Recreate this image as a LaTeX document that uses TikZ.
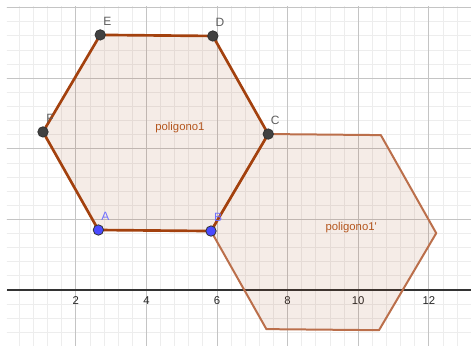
\documentclass[tikz,border=0pt]{standalone}
\usepackage{fontspec}
\setmainfont{Liberation Sans}
\usepackage{tikz}
\usetikzlibrary{calc}
\definecolor{polyline}{HTML}{A3410E}
\definecolor{polyimg}{HTML}{BB6F4B}
\definecolor{polyfill}{HTML}{A0400F}
\definecolor{polytext}{HTML}{B4561E}
\definecolor{ptdark}{HTML}{414141}
\definecolor{ptblue}{HTML}{4A4AFF}
\definecolor{lblblue}{HTML}{7070FF}
\definecolor{lblgray}{HTML}{5E5E5E}
\definecolor{gridminor}{HTML}{EDEDED}
\definecolor{gridmajor}{HTML}{C4C4C4}

\begin{document}
\begin{tikzpicture}[x=26.5pt, y=26.5pt, every node/.style={font=\fontsize{8.5}{10}\selectfont},
    pt/.style={circle, draw=black!80, line width=0.6pt, inner sep=0pt, minimum size=7.8pt},
    ptlbl/.style={xshift=5.3pt, yshift=10.2pt, inner sep=0pt, font=\fontsize{9}{10}\selectfont}]
  \useasboundingbox (-0.147,-1.558) rectangle (13.195,8.215);
  \begin{scope}
    \clip (0.05,-1.6) rectangle (13.25,8.02);
    \draw[gridminor, line width=0.6pt, step=0.4] (-0.4,-2) grid (13.6,8.4);
    \draw[gridmajor, line width=0.7pt, step=2] (-0.4,-2) grid (13.6,8.4);
  \end{scope}
  \coordinate (xl) at (0.05,0);
  \coordinate (xr) at (13.25,0);
  \draw[black!80, line width=1.1pt] (xl) -- (xr);
  \foreach \t in {2,4,...,12}
    \node[text=black!85, inner sep=0pt] (tick\t) at (\t,0) [yshift=-8pt] {\t};
  % regular hexagon A..F
  \coordinate (A) at (2.640,1.700);
  \coordinate (B) at (5.830,1.670);
  \coordinate (C) at (7.451,4.418);
  \coordinate (D) at (5.882,7.196);
  \coordinate (E) at (2.692,7.226);
  \coordinate (F) at (1.071,4.478);
  % translated copy
  \foreach \p in {A,B,C,D,E,F}
    \coordinate (\p1) at ($(\p)+(B)-(F)$);
  \fill[polyfill, fill opacity=0.1] (A1) -- (B1) -- (C1) -- (D1) -- (E1) -- (F1) -- cycle;
  \draw[polyimg, line width=1.5pt, line join=round] (A1) -- (B1) -- (C1) -- (D1) -- (E1) -- (F1) -- cycle;
  \fill[polyfill, fill opacity=0.1] (A) -- (B) -- (C) -- (D) -- (E) -- (F) -- cycle;
  \draw[polyline, line width=2pt, line join=round] (A) -- (B) -- (C) -- (D) -- (E) -- (F) -- cycle;
  \node[text=polytext] (poly) at (4.95,4.59) {poligono1};
  \node[text=polytext] (polyimage) at (9.80,1.78) {poligono1\textquotesingle};
  \foreach \p in {C,D,E,F} {
    \node[pt, fill=ptdark] (p\p) at (\p) {};
    \node[ptlbl, text=lblgray] (l\p) at (\p) {\p};
  }
  \foreach \p in {A,B} {
    \node[pt, fill=ptblue] (p\p) at (\p) {};
    \node[ptlbl, text=lblblue] (l\p) at (\p) {\p};
  }
\end{tikzpicture}
\end{document}
